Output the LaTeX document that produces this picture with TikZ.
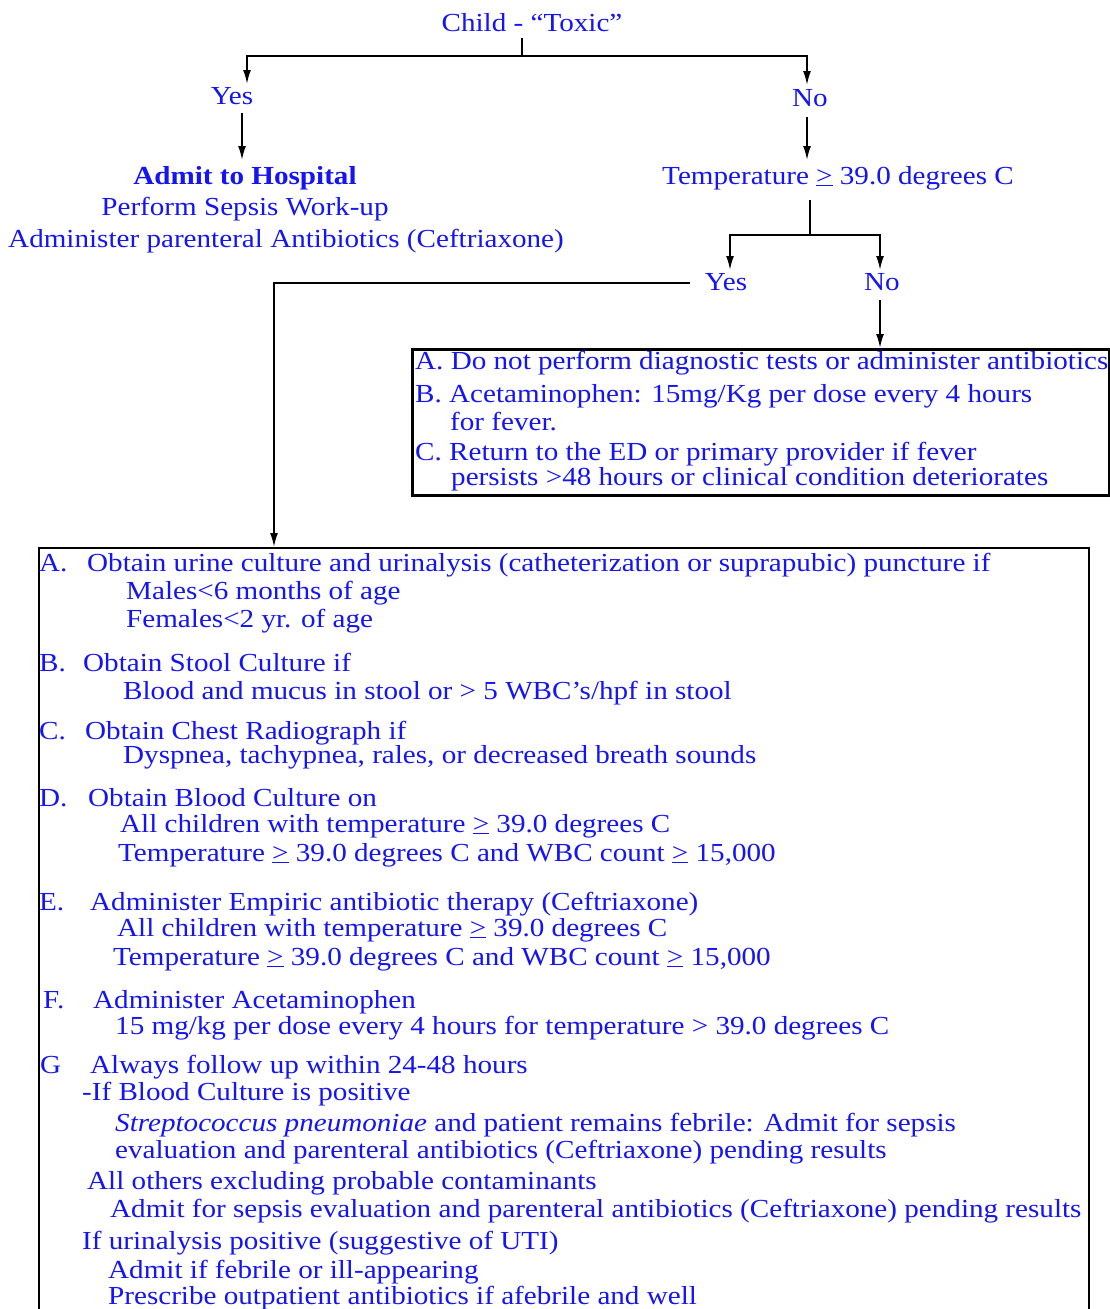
\documentclass[tikz,border=0pt]{standalone}
\usepackage{fontspec}
\setmainfont[FakeStretch=1.12]{Liberation Serif}
\usetikzlibrary{arrows.meta}
\definecolor{txtblue}{RGB}{20,20,245}
\tikzset{
  txt/.style={text=txtblue, inner sep=0pt, font=\fontsize{26}{28}\selectfont},
  ln/.style={line width=1.8pt, draw=black},
  arr/.style={ln, -{Latex[length=14pt,width=8pt]}},
  boxa/.style={draw=black, line width=3pt, rectangle, inner sep=0pt, anchor=north west},
  boxb/.style={draw=black, line width=2.2pt, rectangle, inner sep=0pt, anchor=north west},
}
\newcommand{\uge}{\underline{>}}
\begin{document}
\begin{tikzpicture}[x=1pt,y=1pt]
\useasboundingbox (0,0) rectangle (1110,-1309);
\fill[white] (0,0) rectangle (1110,-1309);
% boxes
\node[boxa, minimum width=697pt, minimum height=146pt] (nobox) at (411,-348) {};
\node[boxb, minimum width=1050pt, minimum height=900pt] (bigbox) at (38,-547) {};
% top part
\node[txt, anchor=base] (child) at (532,-31) {Child - “Toxic”};
\node[txt, anchor=base] (yes1) at (232,-104) {Yes};
\node[txt, anchor=base] (no1) at (810,-106) {No};
\node[txt, anchor=base] (admit) at (245,-184) {\bfseries Admit to Hospital};
\node[txt, anchor=base] (sepsis) at (245,-215) {Perform Sepsis Work-up};
\node[txt, anchor=base] (admin) at (286,-247) {Administer parenteral Antibiotics (Ceftriaxone)};
\node[txt, anchor=base] (temp) at (838,-184) {Temperature \uge\ 39.0 degrees C};
\node[txt, anchor=base] (yes2) at (726,-290) {Yes};
\node[txt, anchor=base] (no2) at (882,-290) {No};
% coordinates
\coordinate (cb) at (522,-38);
\coordinate (j1) at (522,-56);
\coordinate (aY1) at (247,-84);
\coordinate (aN1) at (807,-85);
\coordinate (yb) at (242,-113);
\coordinate (admt) at (242,-160);
\coordinate (nb) at (807,-117);
\coordinate (tempt) at (807,-160);
\coordinate (tb) at (810,-200);
\coordinate (j2) at (810,-235);
\coordinate (aY2) at (730,-270);
\coordinate (aN2) at (880,-270);
\coordinate (nb2) at (880,-300);
\coordinate (yw) at (690,-283);
\coordinate (bigin) at (274,-547);
% connectors
\draw[ln] (cb) -- (j1);
\draw[arr] (j1) -| (aY1);
\draw[arr] (j1) -| (aN1);
\draw[arr] (yb) -- (admt);
\draw[arr] (nb) -- (tempt);
\draw[ln] (tb) -- (j2);
\draw[arr] (j2) -| (aY2);
\draw[arr] (j2) -| (aN2);
\draw[arr] (nb2) -- (nobox.north -| nb2);
\draw[arr] (yw) -| (bigin);
% small box text
\node[txt, anchor=base west] (sA) at (415,-369) {A. Do not perform diagnostic tests or administer antibiotics};
\node[txt, anchor=base west] (sB) at (415,-402) {B. Acetaminophen: 15mg/Kg per dose every 4 hours};
\node[txt, anchor=base west] (sB2) at (450,-430) {for fever.};
\node[txt, anchor=base west] (sC) at (415,-460) {C. Return to the ED or primary provider if fever};
\node[txt, anchor=base west] (sC2) at (451,-485) {persists >48 hours or clinical condition deteriorates};
% big box text
\node[txt, anchor=base west] (lA) at (39,-571) {A.};
\node[txt, anchor=base west] (tA) at (87,-571) {Obtain urine culture and urinalysis (catheterization or suprapubic) puncture if};
\node[txt, anchor=base west] (tA1) at (126,-599) {Males<6 months of age};
\node[txt, anchor=base west] (tA2) at (126,-627) {Females<2 yr. of age};
\node[txt, anchor=base west] (lB) at (39,-671) {B.};
\node[txt, anchor=base west] (tB) at (83,-671) {Obtain Stool Culture if};
\node[txt, anchor=base west] (tB1) at (123,-699) {Blood and mucus in stool or > 5 WBC’s/hpf in stool};
\node[txt, anchor=base west] (lC) at (39,-739) {C.};
\node[txt, anchor=base west] (tC) at (85,-739) {Obtain Chest Radiograph if};
\node[txt, anchor=base west] (tC1) at (123,-763) {Dyspnea, tachypnea, rales, or decreased breath sounds};
\node[txt, anchor=base west] (lD) at (39,-806) {D.};
\node[txt, anchor=base west] (tD) at (88,-806) {Obtain Blood Culture on};
\node[txt, anchor=base west] (tD1) at (120,-832) {All children with temperature \uge\ 39.0 degrees C};
\node[txt, anchor=base west] (tD2) at (118,-861) {Temperature \uge\ 39.0 degrees C and WBC count \uge\ 15,000};
\node[txt, anchor=base west] (lE) at (39,-910) {E.};
\node[txt, anchor=base west] (tE) at (90,-910) {Administer Empiric antibiotic therapy (Ceftriaxone)};
\node[txt, anchor=base west] (tE1) at (117,-936) {All children with temperature \uge\ 39.0 degrees C};
\node[txt, anchor=base west] (tE2) at (113,-965) {Temperature \uge\ 39.0 degrees C and WBC count \uge\ 15,000};
\node[txt, anchor=base west] (lF) at (43,-1008) {F.};
\node[txt, anchor=base west] (tF) at (93,-1008) {Administer Acetaminophen};
\node[txt, anchor=base west] (tF1) at (115,-1034) {15 mg/kg per dose every 4 hours for temperature > 39.0 degrees C};
\node[txt, anchor=base west] (lG) at (40,-1073) {G};
\node[txt, anchor=base west] (tG) at (90,-1073) {Always follow up within 24-48 hours};
\node[txt, anchor=base west] (tG1) at (82,-1100) {-If Blood Culture is positive};
\node[txt, anchor=base west] (tG2) at (115,-1131) {\textit{Streptococcus pneumoniae} and patient remains febrile: Admit for sepsis};
\node[txt, anchor=base west] (tG3) at (115,-1158) {evaluation and parenteral antibiotics (Ceftriaxone) pending results};
\node[txt, anchor=base west] (tG4) at (87,-1189) {All others excluding probable contaminants};
\node[txt, anchor=base west] (tG5) at (110,-1217) {Admit for sepsis evaluation and parenteral antibiotics (Ceftriaxone) pending results};
\node[txt, anchor=base west] (tG6) at (82,-1249) {If urinalysis positive (suggestive of UTI)};
\node[txt, anchor=base west] (tG7) at (108,-1278) {Admit if febrile or ill-appearing};
\node[txt, anchor=base west] (tG8) at (108,-1304) {Prescribe outpatient antibiotics if afebrile and well};
\end{tikzpicture}
\end{document}
